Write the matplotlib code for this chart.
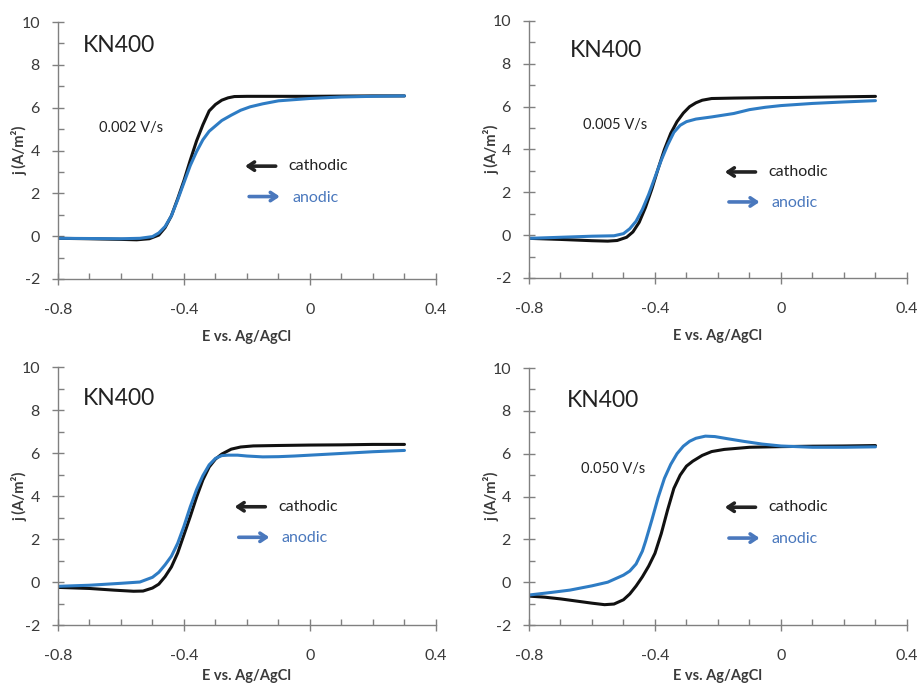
import numpy as np
import matplotlib
matplotlib.use('Agg')
import matplotlib.pyplot as plt
import matplotlib.ticker as ticker

plt.rcParams['font.family'] = ['Lato', 'DejaVu Sans']

# --- data (E in V vs Ag/AgCl, j in A/m2) ---
rates = ['0.002 V/s', '0.005 V/s', '', '0.050 V/s']

# 0.002 V/s
E_cat_1 = [-0.8, -0.7, -0.6, -0.55, -0.51, -0.48, -0.46, -0.44, -0.42, -0.40, -0.38, -0.36,
           -0.34, -0.32, -0.30, -0.28, -0.26, -0.24, -0.2, -0.1, 0.0, 0.1, 0.2, 0.3]
j_cat_1 = [-0.1, -0.12, -0.15, -0.17, -0.12, 0.05, 0.4, 0.95, 1.75, 2.6, 3.55, 4.45,
           5.2, 5.85, 6.15, 6.35, 6.46, 6.52, 6.53, 6.53, 6.53, 6.54, 6.55, 6.55]
E_an_1 = [-0.8, -0.7, -0.6, -0.54, -0.5, -0.48, -0.46, -0.44, -0.42, -0.40, -0.38, -0.36, -0.34,
          -0.32, -0.30, -0.28, -0.25, -0.22, -0.19, -0.15, -0.1, 0.0, 0.1, 0.2, 0.3]
j_an_1 = [-0.1, -0.11, -0.12, -0.1, -0.02, 0.15, 0.45, 0.95, 1.7, 2.5, 3.3, 3.95, 4.5,
          4.9, 5.15, 5.4, 5.65, 5.88, 6.04, 6.18, 6.32, 6.43, 6.5, 6.53, 6.55]

# 0.005 V/s
E_cat_2 = [-0.8, -0.7, -0.6, -0.55, -0.52, -0.49, -0.47, -0.45, -0.43, -0.41, -0.39, -0.37,
           -0.35, -0.33, -0.31, -0.29, -0.27, -0.25, -0.22, -0.15, -0.05, 0.05, 0.15, 0.3]
j_cat_2 = [-0.15, -0.2, -0.26, -0.28, -0.25, -0.1, 0.15, 0.6, 1.3, 2.15, 3.1, 4.0,
           4.75, 5.3, 5.7, 6.0, 6.18, 6.3, 6.38, 6.4, 6.42, 6.43, 6.45, 6.48]
E_an_2 = [-0.8, -0.7, -0.6, -0.53, -0.5, -0.48, -0.46, -0.44, -0.42, -0.40, -0.38, -0.36,
          -0.34, -0.32, -0.30, -0.27, -0.22, -0.15, -0.1, -0.05, 0.0, 0.1, 0.2, 0.3]
j_an_2 = [-0.15, -0.1, -0.05, -0.03, 0.07, 0.3, 0.65, 1.2, 1.9, 2.7, 3.5, 4.2,
          4.8, 5.13, 5.3, 5.42, 5.52, 5.68, 5.86, 5.97, 6.05, 6.15, 6.22, 6.28]

# third panel (rate not labelled)
E_cat_3 = [-0.8, -0.7, -0.62, -0.56, -0.53, -0.5, -0.48, -0.46, -0.44, -0.42, -0.40, -0.38, -0.36,
           -0.34, -0.32, -0.30, -0.28, -0.25, -0.22, -0.18, -0.1, 0.0, 0.1, 0.2, 0.3]
j_cat_3 = [-0.25, -0.3, -0.38, -0.43, -0.42, -0.28, -0.1, 0.25, 0.7, 1.35, 2.2, 3.05, 3.95,
           4.75, 5.35, 5.72, 5.95, 6.18, 6.28, 6.33, 6.35, 6.37, 6.38, 6.4, 6.4]
E_an_3 = [-0.8, -0.7, -0.6, -0.54, -0.5, -0.48, -0.46, -0.44, -0.42, -0.40, -0.38, -0.36, -0.34,
          -0.32, -0.30, -0.28, -0.26, -0.23, -0.2, -0.15, -0.1, -0.05, 0.0, 0.1, 0.2, 0.3]
j_an_3 = [-0.2, -0.15, -0.06, 0.0, 0.22, 0.45, 0.8, 1.2, 1.8, 2.6, 3.5, 4.3, 4.95,
          5.45, 5.75, 5.88, 5.9, 5.9, 5.86, 5.82, 5.83, 5.86, 5.9, 5.98, 6.06, 6.12]

# 0.050 V/s
E_cat_4 = [-0.8, -0.75, -0.7, -0.65, -0.6, -0.56, -0.53, -0.5, -0.48, -0.46, -0.44, -0.42, -0.40, -0.38,
           -0.36, -0.34, -0.32, -0.30, -0.28, -0.25, -0.22, -0.18, -0.1, 0.0, 0.1, 0.2, 0.3]
j_cat_4 = [-0.65, -0.7, -0.78, -0.88, -0.98, -1.05, -1.02, -0.82, -0.55, -0.18, 0.25, 0.75, 1.35, 2.27,
           3.37, 4.38, 5.0, 5.42, 5.65, 5.92, 6.1, 6.2, 6.3, 6.33, 6.35, 6.36, 6.38]
E_an_4 = [-0.8, -0.73, -0.67, -0.6, -0.55, -0.5, -0.48, -0.46, -0.44, -0.43, -0.41, -0.39, -0.37, -0.35,
          -0.33, -0.31, -0.29, -0.27, -0.24, -0.21, -0.17, -0.12, -0.06, 0.0, 0.1, 0.2, 0.3]
j_an_4 = [-0.6, -0.48, -0.37, -0.17, 0.0, 0.33, 0.52, 0.85, 1.45, 1.9, 2.9, 3.95, 4.85, 5.5,
          6.0, 6.35, 6.58, 6.72, 6.82, 6.8, 6.7, 6.58, 6.45, 6.36, 6.3, 6.3, 6.32]

curves = [(E_cat_1, j_cat_1, E_an_1, j_an_1),
          (E_cat_2, j_cat_2, E_an_2, j_an_2),
          (E_cat_3, j_cat_3, E_an_3, j_an_3),
          (E_cat_4, j_cat_4, E_an_4, j_an_4)]

# label positions (data coords) for each panel
kn_pos = [(-0.72, 8.9), (-0.67, 8.6), (-0.72, 8.55), (-0.68, 8.5)]
rate_pos = [(-0.67, 5.05), (-0.63, 5.15), None, (-0.635, 5.3)]
cat_y = [3.27, 2.95, 3.5, 3.5]
an_y = [1.85, 1.55, 2.08, 2.06]
arrow_x0 = [-0.215, -0.187, -0.248, -0.187]

col_black = '#111111'
col_blue = '#2e7cc4'
col_blue_txt = '#4a78bd'
col_axis = '#808080'
col_txt = '#3a3a3a'

fig = plt.figure(figsize=(9.19, 6.86), dpi=100)
boxes = [[0.0631, 0.5933, 0.4113, 0.3746],
         [0.5756, 0.5948, 0.4113, 0.3746],
         [0.0631, 0.0889, 0.4113, 0.3761],
         [0.5756, 0.0889, 0.4113, 0.3746]]
ylab_x = [-0.08, -0.078, -0.08, -0.078]
xlab_pad = [9, 9, 4, 4]

for k in range(4):
    ax = fig.add_axes(boxes[k])
    Ec, jc, Ea, ja = curves[k]
    ax.plot(Ec, jc, color=col_black, lw=2.2, solid_capstyle='round')
    ax.plot(Ea, ja, color=col_blue, lw=2.2, solid_capstyle='round')

    ax.set_xlim(-0.8, 0.4)
    ax.set_ylim(-2, 10)
    ax.xaxis.set_major_locator(ticker.MultipleLocator(0.4))
    ax.xaxis.set_minor_locator(ticker.MultipleLocator(0.1))
    ax.yaxis.set_major_locator(ticker.MultipleLocator(2))
    ax.yaxis.set_minor_locator(ticker.MultipleLocator(1))
    ax.xaxis.set_major_formatter(ticker.FuncFormatter(lambda v, p: '0' if abs(v) < 1e-9 else '%.1f' % v))
    ax.yaxis.set_major_formatter(ticker.FuncFormatter(lambda v, p: '%d' % round(v)))

    for s in ['top', 'right']:
        ax.spines[s].set_visible(False)
    for s in ['left', 'bottom']:
        ax.spines[s].set_color(col_axis)
        ax.spines[s].set_linewidth(1.0)

    ax.tick_params(axis='x', which='major', direction='inout', length=9, width=1,
                   color=col_axis, labelsize=11.5, labelcolor=col_txt, pad=13)
    ax.tick_params(axis='x', which='minor', direction='in', length=4, width=1, color=col_axis)
    ax.tick_params(axis='y', which='major', direction='inout', length=8, width=1,
                   color=col_axis, labelsize=11.5, labelcolor=col_txt, pad=9)
    ax.tick_params(axis='y', which='minor', direction='in', length=4, width=1, color=col_axis)

    ax.set_xlabel('E vs. Ag/AgCl', fontsize=10.5, fontweight='bold', color=col_txt, labelpad=xlab_pad[k])
    ax.set_ylabel('j (A/m²)', fontsize=10.5, fontweight='bold', color=col_txt)
    ax.yaxis.set_label_coords(ylab_x[k], 0.5)

    ax.text(kn_pos[k][0], kn_pos[k][1], 'KN400', fontsize=16.5, color='#222222', va='center', ha='left')
    if rate_pos[k] is not None:
        ax.text(rate_pos[k][0], rate_pos[k][1], rates[k], fontsize=10.5, color='#222222',
                va='center', ha='left')

    x0 = arrow_x0[k]
    ax.annotate('', xy=(x0, cat_y[k]), xytext=(x0 + 0.115, cat_y[k]),
                arrowprops=dict(arrowstyle='->,head_length=0.45,head_width=0.3',
                                color='#222222', lw=2.6))
    ax.text(x0 + 0.148, cat_y[k], 'cathodic', fontsize=11.5, color='#222222', va='center', ha='left')
    ax.annotate('', xy=(x0 + 0.128, an_y[k]), xytext=(x0 + 0.013, an_y[k]),
                arrowprops=dict(arrowstyle='->,head_length=0.45,head_width=0.3',
                                color=col_blue_txt, lw=2.6))
    ax.text(x0 + 0.158, an_y[k] - 0.05, 'anodic', fontsize=11.5, color=col_blue_txt, va='center', ha='left')

fig.savefig('out.png', dpi=100)
